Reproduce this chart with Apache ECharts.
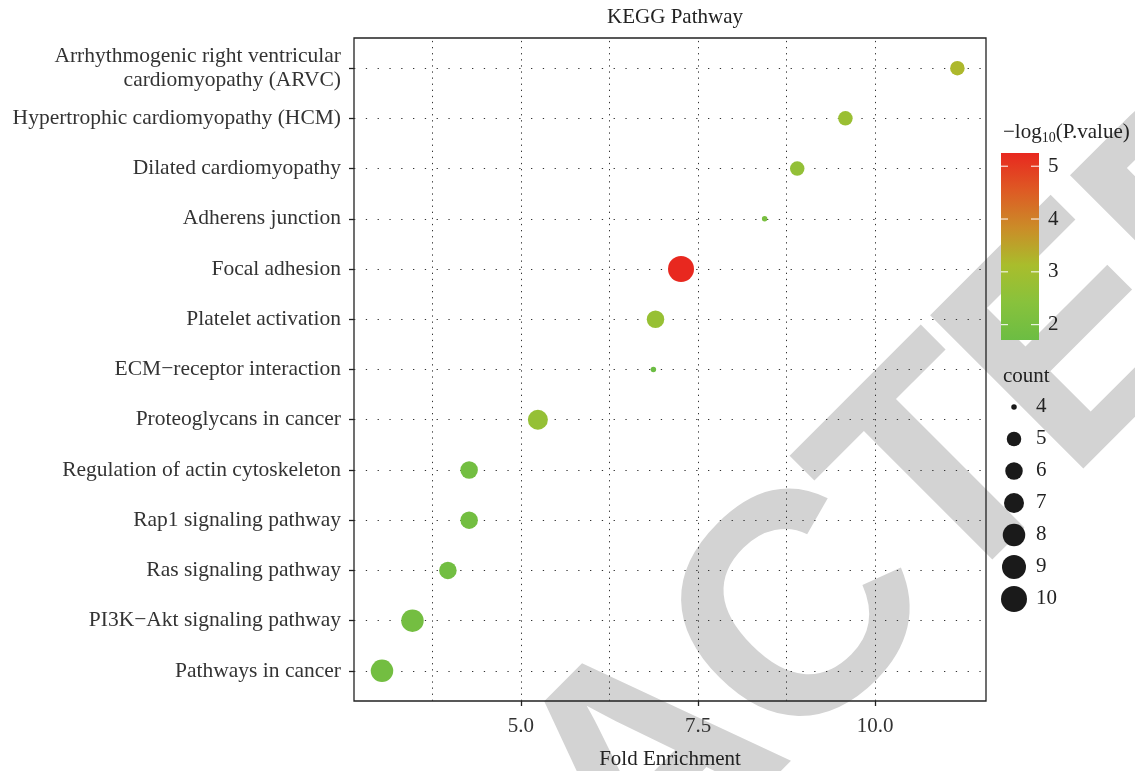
<!DOCTYPE html>
<html>
 <head>
  <meta charset="utf-8" />
  <title>KEGG Pathway</title>
  <script src="https://cdn.jsdelivr.net/npm/echarts@6/dist/echarts.min.js"></script>
 </head>
 <body style="margin:0">
  <div id="main" style="width:1135px;height:771px;"></div>
  <script type="text/javascript">

    // pathways, top to bottom as drawn
    var pathways = [
        'Arrhythmogenic right ventricular\ncardiomyopathy (ARVC)',
        'Hypertrophic cardiomyopathy (HCM)',
        'Dilated cardiomyopathy',
        'Adherens junction',
        'Focal adhesion',
        'Platelet activation',
        'ECM\u2212receptor interaction',
        'Proteoglycans in cancer',
        'Regulation of actin cytoskeleton',
        'Rap1 signaling pathway',
        'Ras signaling pathway',
        'PI3K\u2212Akt signaling pathway',
        'Pathways in cancer'
    ];
    var foldEnrichment = [11.16, 9.58, 8.90, 8.44, 7.26, 6.90, 6.87, 5.24, 4.27, 4.27, 3.97, 3.47, 3.04];
    var geneCount      = [5, 5, 5, 4, 10, 6, 4, 7, 6, 6, 6, 8, 8];
    var negLogP        = [3.2, 2.8, 2.65, 2.05, 5.25, 2.75, 1.71, 2.7, 1.88, 1.88, 1.85, 1.9, 1.88];

    var xTicks = [5.0, 7.5, 10.0];
    var xGrid = [3.75, 5.0, 6.25, 7.5, 8.75, 10.0];
    var colorTicks = [2, 3, 4, 5];
    var countTicks = [4, 5, 6, 7, 8, 9, 10];

    var FONT = 'Liberation Serif';
    var FS = 21;
    var sizeOf = {4: 5.5, 5: 14.5, 6: 17.5, 7: 20, 8: 22.5, 9: 24, 10: 26};
    var palette = ['#6cbd43', '#88c23c', '#a9bd2c', '#cb8c28', '#de5a24', '#e8281f'];

    var n = pathways.length;
    var yVals = [];
    for (var k = 1; k <= n; k++) yVals.push(k);

    var points = pathways.map(function (p, i) {
        return [foldEnrichment[i], n - i, negLogP[i], geneCount[i], p];
    });
    var pMin = Math.min.apply(null, negLogP);
    var pMax = Math.max.apply(null, negLogP);

    var gridLines = [];
    xGrid.forEach(function (v) {
        gridLines.push({xAxis: v, lineStyle: {color: '#333', width: 1, type: [1.3, 4.8]}});
    });
    yVals.forEach(function (v) {
        gridLines.push({yAxis: v, lineStyle: {color: '#333', width: 1, type: [1.3, 10.5]}});
    });

    var els = [];

    // watermark, letter by letter (slightly tighter than the font's own spacing)
    var wmText = 'RETRACTED';
    var wmWidths = [0.722, 0.667, 0.611, 0.722, 0.722, 0.722, 0.611, 0.667, 0.722];
    var wmEm = 315, wmSpacing = 0.944, wmAngle = 45 * Math.PI / 180;
    var wmMid = [655, 774];   // anchor of the middle letter
    var acc = 0, wmCenters = [];
    wmWidths.forEach(function (w) { wmCenters.push(acc + w / 2); acc += w; });
    for (var i = 0; i < wmText.length; i++) {
        var t = (wmCenters[i] - wmCenters[4]) * wmEm * wmSpacing;
        els.push({
            type: 'text', silent: true, z: -10,
            x: wmMid[0] + t * Math.cos(wmAngle), y: wmMid[1] - t * Math.sin(wmAngle),
            rotation: wmAngle,
            style: {text: wmText[i], fontSize: wmEm, fontWeight: 'bold', fontFamily: 'Liberation Sans',
                    fill: '#d3d3d3', align: 'center', verticalAlign: 'middle'}
        });
    }

    // colour bar legend
    var bar = {x: 1001, y: 153, w: 38, h: 187};
    var stops = palette.map(function (c, i) {
        return {offset: 1 - i / (palette.length - 1), color: c};
    }).reverse();
    els.push({
        type: 'text', left: 1003, top: 122,
        style: {
            text: '\u2212log{s|10}(P.value)',
            font: FS + 'px ' + FONT, fill: '#222',
            rich: {s: {fontSize: 14, fontFamily: FONT, verticalAlign: 'bottom', padding: [11, 0, 0, 0], fill: '#222'}}
        }
    });
    els.push({
        type: 'rect', shape: {x: bar.x, y: bar.y, width: bar.w, height: bar.h},
        style: {fill: new echarts.graphic.LinearGradient(0, 0, 0, 1, stops)}
    });
    colorTicks.forEach(function (v) {
        var yy = bar.y + (pMax - v) / (pMax - pMin) * bar.h;
        els.push({type: 'line', shape: {x1: bar.x, y1: yy, x2: bar.x + 7, y2: yy}, style: {stroke: '#fff', lineWidth: 1}});
        els.push({type: 'line', shape: {x1: bar.x + bar.w - 8, y1: yy, x2: bar.x + bar.w, y2: yy}, style: {stroke: '#fff', lineWidth: 1}});
        els.push({type: 'text', x: bar.x + 47, y: yy,
            style: {text: String(v), font: FS + 'px ' + FONT, fill: '#222', verticalAlign: 'middle'}});
    });

    // size legend
    els.push({type: 'text', left: 1003, top: 366, style: {text: 'count', font: FS + 'px ' + FONT, fill: '#222'}});
    countTicks.forEach(function (c, i) {
        var yy = 406 + i * 32;
        els.push({type: 'circle', shape: {cx: 1014, cy: yy + 1, r: sizeOf[c] / 2}, style: {fill: '#1a1a1a'}});
        els.push({type: 'text', x: 1036, y: yy,
            style: {text: String(c), font: FS + 'px ' + FONT, fill: '#222', verticalAlign: 'middle'}});
    });

    var myChart = echarts.init(document.getElementById('main'));

    myChart.setOption({
        animation: false,
        backgroundColor: '#fff',
        title: {
            text: 'KEGG Pathway', left: 670, top: 2, textAlign: 'center',
            textStyle: {fontFamily: FONT, fontSize: FS, fontWeight: 'normal', color: '#222'}
        },
        grid: {
            left: 354, top: 38, width: 632, height: 663, outerBoundsMode: 'none',
            show: true, borderColor: '#222', borderWidth: 1.3, backgroundColor: 'transparent'
        },
        xAxis: {
            type: 'value', min: 2.645, max: 11.564,
            name: 'Fold Enrichment', nameLocation: 'middle', nameGap: 48,
            nameTextStyle: {fontFamily: FONT, fontSize: FS, color: '#222'},
            axisLine: {show: false},
            splitLine: {show: false},
            axisTick: {show: true, length: 5, customValues: xTicks, lineStyle: {color: '#222', width: 1.3}},
            axisLabel: {customValues: xTicks, margin: 15, fontFamily: FONT, fontSize: FS, color: '#333',
                formatter: function (v) { return v.toFixed(1); }}
        },
        yAxis: {
            type: 'value', min: 0.4, max: n + 0.6,
            axisLine: {show: false},
            splitLine: {show: false},
            axisTick: {show: true, length: 5, customValues: yVals, lineStyle: {color: '#222', width: 1.3}},
            axisLabel: {customValues: yVals, margin: 13, fontFamily: FONT, fontSize: 21.5, color: '#333', lineHeight: 24,
                formatter: function (v) { return pathways[n - Math.round(v)]; }}
        },
        visualMap: {
            show: false, type: 'continuous', seriesIndex: 0, dimension: 2,
            min: pMin, max: pMax, inRange: {color: palette}
        },
        graphic: {elements: els},
        series: [{
            type: 'scatter',
            data: points,
            z: 3,
            symbolSize: function (val) { return sizeOf[val[3]]; },
            itemStyle: {opacity: 1},
            markLine: {
                silent: true, z: 1, symbol: ['none', 'none'], label: {show: false},
                emphasis: {disabled: true},
                data: gridLines
            }
        }]
    });
</script>
 </body>
</html>
